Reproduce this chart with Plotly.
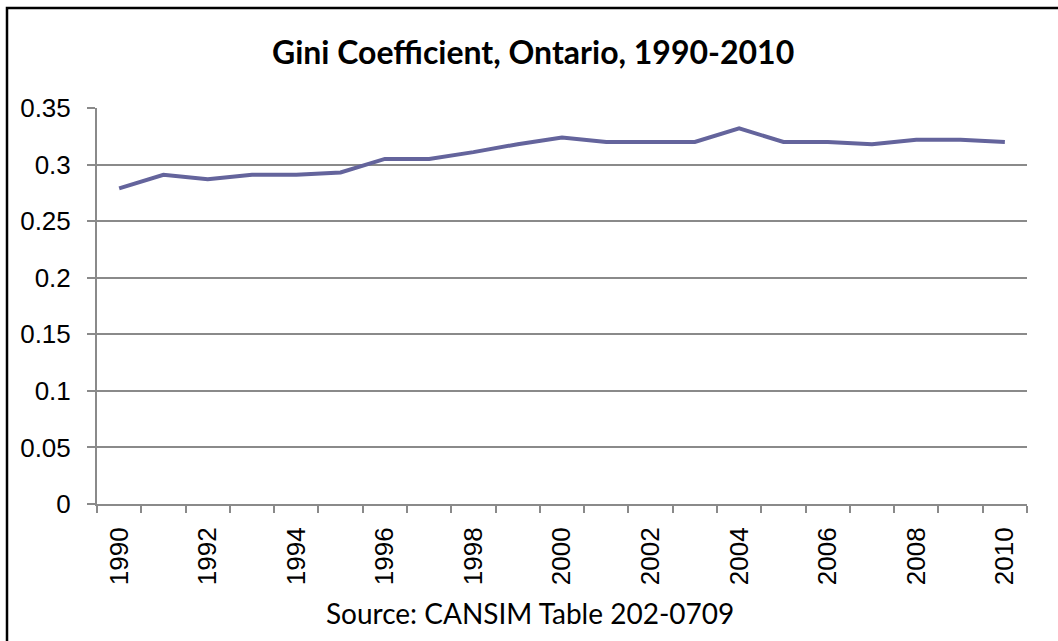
"""
Gini coefficient for Ontario, 1990-2010 (CANSIM Table 202-0709), redrawn
as a simple Excel-style line chart.
"""

import plotly.graph_objects as go

YEARS = list(range(1990, 2011))
GINI = [0.279, 0.291, 0.287, 0.291, 0.291, 0.293, 0.305, 0.305, 0.311, 0.318,
        0.324, 0.320, 0.320, 0.320, 0.332, 0.320, 0.320, 0.318, 0.322, 0.322,
        0.320]
YEAR_TICKS = [y for y in YEARS if y % 2 == 0]
Y_TICKS = [0, 0.05, 0.1, 0.15, 0.2, 0.25, 0.3, 0.35]
Y_LABELS = ["0", "0.05", "0.1", "0.15", "0.2", "0.25", "0.3", "0.35"]

TITLE = "<b>Gini Coefficient, Ontario, 1990-2010</b>"
SOURCE = "Source: CANSIM Table 202-0709"

GRID = "#8a8a8a"
LINE = "#64649c"

W, H = 1058, 641
L, R, T, B = 97, 31, 108, 137
PW, PH = W - L - R, H - T - B

fig = go.Figure(go.Scatter(
    x=YEARS, y=GINI, mode="lines",
    line=dict(color=LINE, width=4),
    hoverinfo="x+y", showlegend=False,
))

axis_font = dict(family="Liberation Sans, Arial, sans-serif", size=26, color="black")

fig.update_layout(
    width=W, height=H,
    margin=dict(l=L, r=R, t=T, b=B, pad=0),
    paper_bgcolor="white", plot_bgcolor="white",
    xaxis=dict(
        range=[YEARS[0] - 0.5, YEARS[-1] + 0.5],
        tickvals=YEAR_TICKS, ticktext=[str(y) for y in YEAR_TICKS],
        tickangle=-90, tickfont=axis_font, ticks="",
        showgrid=False, zeroline=False, automargin=False,
        showline=True, linecolor=GRID, linewidth=2,
        minor=dict(ticks="outside", tick0=YEARS[0] - 0.5, dtick=1,
                   ticklen=7, tickwidth=2, tickcolor=GRID, showgrid=False),
        ticklabelstandoff=11,
    ),
    yaxis=dict(
        range=[0, 0.35], tickvals=Y_TICKS, ticktext=Y_LABELS,
        tickfont=axis_font, ticks="outside", ticklen=8, tickwidth=2,
        tickcolor=GRID, showgrid=True, gridcolor=GRID, gridwidth=2,
        zeroline=False, showline=True, linecolor=GRID, linewidth=2,
        automargin=False, ticklabelstandoff=11,
    ),
    annotations=[
        dict(text=TITLE, xref="paper", yref="paper",
             x=(533 - L) / PW, y=1 + (T - 52) / PH,
             showarrow=False, xanchor="center", yanchor="middle",
             font=dict(family="Lato, Open Sans, sans-serif", size=32, color="black")),
        dict(text=SOURCE, xref="paper", yref="paper",
             x=(530 - L) / PW, y=-(613 - (H - B)) / PH,
             showarrow=False, xanchor="center", yanchor="middle",
             font=dict(family="Lato, Open Sans, sans-serif", size=28, color="black")),
    ],
    shapes=[
        # chart-area border, running off the right and bottom of the image
        dict(type="rect", xref="paper", yref="paper",
             x0=(7 - L) / PW, x1=(W + 20 - L) / PW,
             y0=-(H + 20 - (H - B)) / PH, y1=1 + (T - 8) / PH,
             line=dict(color="black", width=2.5), layer="above"),
    ],
)

# drop the browser's default body margin so the chart sits at the page corner
fig.write_html("out.html", config={"displayModeBar": False},
               post_script="document.body.style.margin = '0';")
